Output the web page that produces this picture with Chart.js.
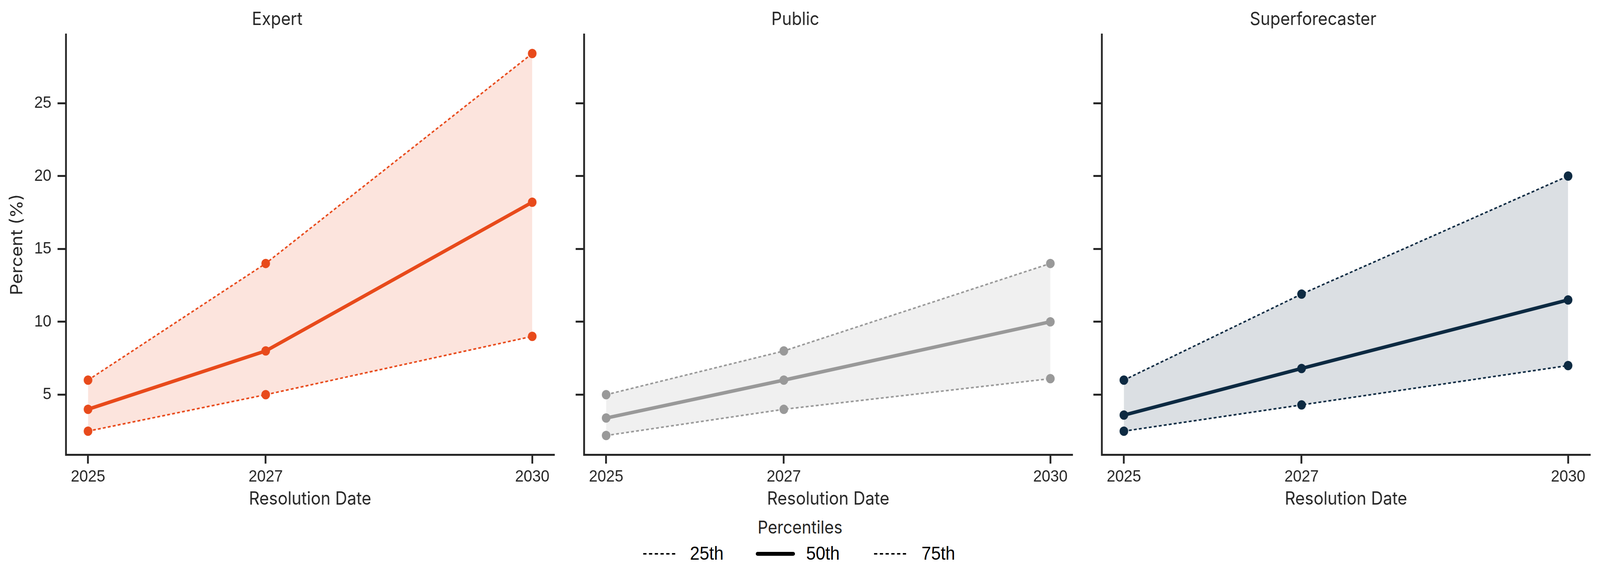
<!DOCTYPE html>
<html>
<head>
<meta charset="utf-8">
<script src="https://cdn.jsdelivr.net/npm/chart.js@4.4.1/dist/chart.umd.min.js"></script>
<style>
  html, body { margin: 0; padding: 0; background: #fff; overflow: hidden; }
  #outer { position: relative; overflow: hidden; background: #fff; }
  #wrap { position: absolute; left: 0; top: 0; width: 4450px; height: 1485px; overflow: hidden; background: #fff; transform-origin: 0 0; }
  canvas { position: absolute; top: 0; }
  .leg { position: absolute; line-height: 1; white-space: nowrap; }
  #legTitle { font-family: Inter, sans-serif; font-size: 45px; color: #262626; top: 1327px; left: 2025px; width: 400px; text-align: center; }
  .legText { font-family: "Liberation Sans", Arial, sans-serif; font-size: 48px; color: #000; top: 1393px; }
  svg.legLine { position: absolute; top: 1398px; }
</style>
</head>
<body>
<div id="outer">
<div id="wrap">
  <canvas id="c0" width="1562" height="1314" style="left:0px"></canvas>
  <canvas id="c1" width="1562" height="1314" style="left:1441px"></canvas>
  <canvas id="c2" width="1562" height="1314" style="left:2881px"></canvas>

  <div class="leg" id="legTitle">Percentiles</div>
  <svg class="legLine" style="left:1786px" width="100" height="40"><line x1="3" y1="20" x2="96" y2="20" stroke="#000" stroke-width="4" stroke-dasharray="9 7"/></svg>
  <div class="leg legText" style="left:1919px">25th</div>
  <svg class="legLine" style="left:2100px" width="115" height="40"><line x1="7" y1="20" x2="106" y2="20" stroke="#000" stroke-width="10" stroke-linecap="round"/></svg>
  <div class="leg legText" style="left:2242px">50th</div>
  <svg class="legLine" style="left:2428px" width="100" height="40"><line x1="3" y1="20" x2="96" y2="20" stroke="#000" stroke-width="4" stroke-dasharray="9 7"/></svg>
  <div class="leg legText" style="left:2563px">75th</div>
</div>
</div>
<script>
// resolution years on the x axis
const years = [2025, 2027, 2030];
const yTicks = [5, 10, 15, 20, 25];

const panelNames = ['Expert', 'Public', 'Superforecaster'];

// percentiles (percent)
const expertP25 = [2.5, 5.0, 9.0];
const expertP50 = [4.0, 8.0, 18.2];
const expertP75 = [6.0, 14.0, 28.4];

const publicP25 = [2.2, 4.0, 6.1];
const publicP50 = [3.4, 6.0, 10.0];
const publicP75 = [5.0, 8.0, 14.0];

const superP25 = [2.5, 4.3, 7.0];
const superP50 = [3.6, 6.8, 11.5];
const superP75 = [6.0, 11.9, 20.0];

const colors = ['rgb(232,74,27)', 'rgb(153,153,153)', 'rgb(13,42,66)'];
const fills = ['rgba(232,74,27,0.15)', 'rgba(153,153,153,0.15)', 'rgba(13,42,66,0.15)'];

const INK = '#262626';
const TICK_FONT = { family: '"Liberation Sans", Arial, sans-serif', size: 43, weight: 'normal' };
const TITLE_FONT = { family: 'Inter, sans-serif', size: 46, weight: 'normal' };

// laid out on a 4450x1485 sheet; the viewport can be narrower (capped at 4096),
// so stretch the sheet over whatever window we actually get
const outer = document.getElementById('outer');
const wrap = document.getElementById('wrap');
const vw = document.documentElement.clientWidth || 4450;
const vh = document.documentElement.clientHeight || 1485;
const sx = vw / 4450, sy = vh / 1485;
wrap.style.transform = 'scale(' + sx + ',' + sy + ')';
outer.style.width = vw + 'px';
outer.style.height = vh + 'px';

// shared axis limits, matplotlib style 5% margins
const allVals = [].concat(expertP25, expertP75, publicP25, publicP75, superP25, superP75);
const yLo = Math.min(...allVals), yHi = Math.max(...allVals);
const yMin = yLo - (yHi - yLo) * 0.05;
const yMax = yHi + (yHi - yLo) * 0.05;
const xMin = years[0] - (years[2] - years[0]) * 0.05;
const xMax = years[2] + (years[2] - years[0]) * 0.05;

function points(arr) {
    return years.map((x, i) => ({ x: x, y: arr[i] }));
}

function makePanel(idx, p25, p50, p75) {
    const color = colors[idx];
    const first = idx === 0;
    new Chart(document.getElementById('c' + idx), {
        type: 'line',
        data: {
            datasets: [
                {
                    label: '50th',
                    data: points(p50),
                    borderColor: color,
                    borderWidth: 9,
                    pointRadius: 12,
                    pointBackgroundColor: color,
                    pointBorderWidth: 0,
                    fill: false,
                },
                {
                    label: '25th',
                    data: points(p25),
                    borderColor: color,
                    borderWidth: 4,
                    borderDash: [8, 6],
                    pointRadius: 12,
                    pointBackgroundColor: color,
                    pointBorderWidth: 0,
                    fill: false,
                },
                {
                    label: '75th',
                    data: points(p75),
                    borderColor: color,
                    backgroundColor: fills[idx],
                    borderWidth: 4,
                    borderDash: [8, 6],
                    pointRadius: 12,
                    pointBackgroundColor: color,
                    pointBorderWidth: 0,
                    fill: { target: 1 },
                },
            ]
        },
        options: {
            responsive: false,
            devicePixelRatio: 1,
            animation: false,
            layout: { padding: { right: 20 } },
            plugins: {
                legend: { display: false },
                tooltip: { enabled: false },
                filler: { drawTime: 'beforeDatasetsDraw' },
                title: {
                    display: true,
                    text: panelNames[idx],
                    color: INK,
                    font: TITLE_FONT,
                    padding: { top: 23, bottom: 10 },
                },
            },
            scales: {
                x: {
                    type: 'linear',
                    min: xMin,
                    max: xMax,
                    afterBuildTicks: s => { s.ticks = years.map(v => ({ value: v })); },
                    afterFit: s => { s.height = 150; },
                    ticks: { color: INK, font: TICK_FONT, padding: 8, callback: v => String(v) },
                    grid: { drawOnChartArea: false, drawTicks: true, tickLength: 23, tickWidth: 5, tickColor: INK },
                    border: { display: true, width: 5, color: INK },
                    title: { display: true, text: 'Resolution Date', color: INK, font: TITLE_FONT, padding: { top: 0, bottom: 8 } },
                },
                y: {
                    type: 'linear',
                    min: yMin,
                    max: yMax,
                    afterBuildTicks: s => { s.ticks = yTicks.map(v => ({ value: v })); },
                    afterFit: s => { s.width = 183; },
                    ticks: { display: first, color: INK, font: TICK_FONT, padding: 17, callback: v => String(v) },
                    grid: { drawOnChartArea: false, drawTicks: true, tickLength: 23, tickWidth: 5, tickColor: INK },
                    border: { display: true, width: 5, color: INK },
                    title: { display: first, text: 'Percent (%)', color: INK, font: TITLE_FONT, padding: { top: 21, bottom: 0 } },
                },
            },
        },
    });
}

makePanel(0, expertP25, expertP50, expertP75);
makePanel(1, publicP25, publicP50, publicP75);
makePanel(2, superP25, superP50, superP75);
</script>
</body>
</html>
